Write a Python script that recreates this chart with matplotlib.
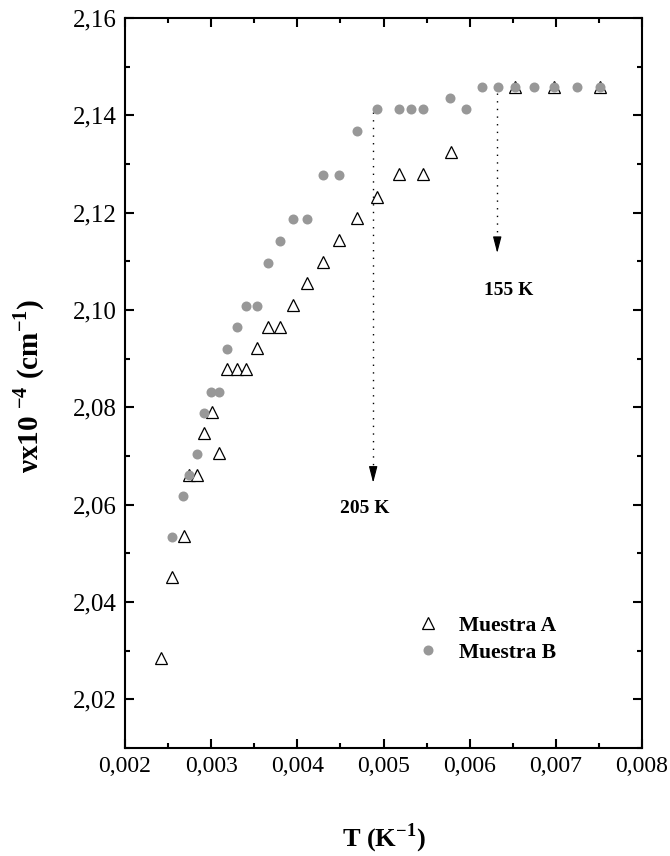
import numpy as np
import matplotlib
matplotlib.use('Agg')
import matplotlib.pyplot as plt
from matplotlib.ticker import MultipleLocator, FuncFormatter

plt.rcParams['font.family'] = ['Liberation Serif', 'DejaVu Serif']
plt.rcParams['mathtext.fontset'] = 'custom'
plt.rcParams['mathtext.rm'] = 'Liberation Serif'
plt.rcParams['mathtext.bf'] = 'Liberation Serif:bold'

## Muestra A (open triangles)
xa = [0.002418, 0.002541, 0.002681, 0.002745, 0.002839, 0.002916, 0.003009, 0.003094,
      0.003186, 0.003295, 0.003404, 0.003528, 0.003663, 0.003802, 0.003953, 0.004115,
      0.004293, 0.004479, 0.004691, 0.004923, 0.005183, 0.005453, 0.005778, 0.006524,
      0.006980, 0.007510]
ya = [2.0284, 2.0451, 2.0536, 2.0661, 2.0661, 2.0748, 2.0791, 2.0706,
      2.0878, 2.0878, 2.0878, 2.0921, 2.0966, 2.0966, 2.1010, 2.1055,
      2.1099, 2.1144, 2.1188, 2.1233, 2.1279, 2.1279, 2.1324, 2.1459,
      2.1459, 2.1459]

## Muestra B (grey circles)
xb = [0.002541, 0.002676, 0.002745, 0.002831, 0.002916, 0.003002, 0.003094, 0.003186,
      0.003295, 0.003404, 0.003528, 0.003663, 0.003802, 0.003945, 0.004115, 0.004293,
      0.004479, 0.004691, 0.004923, 0.005183, 0.005317, 0.005453, 0.005770, 0.005952,
      0.006138, 0.006323, 0.006524, 0.006748, 0.006980, 0.007240, 0.007510]
yb = [2.0534, 2.0618, 2.0661, 2.0704, 2.0789, 2.0832, 2.0832, 2.0920,
      2.0964, 2.1008, 2.1008, 2.1096, 2.1142, 2.1186, 2.1186, 2.1277,
      2.1277, 2.1367, 2.1413, 2.1413, 2.1413, 2.1413, 2.1436, 2.1413,
      2.1459, 2.1459, 2.1459, 2.1459, 2.1459, 2.1459, 2.1459]

## transition markers
arrow_x = [0.00488, 0.00632]
arrow_top = [2.1407, 2.1446]
arrow_tip = [2.0645, 2.1117]
arrow_lab = ['205 K', '155 K']
lab_x = [0.004784, 0.006455]
lab_y = [2.0593, 2.1041]

fig = plt.figure(figsize=(6.70, 8.56), dpi=100)
ax = fig.add_axes([0.1866, 0.1262, 0.9582 - 0.1866, 0.979 - 0.1262])

ax.plot(xa, ya, ls='none', marker='^', ms=8, mfc='white', mec='black', mew=0.9,
        label='Muestra A', zorder=3)
ax.plot(xb, yb, ls='none', marker='o', ms=7.2, mfc='#989898', mec='#989898', mew=0,
        label='Muestra B', zorder=4)

for x, top, tip, lab, lx, ly in zip(arrow_x, arrow_top, arrow_tip, arrow_lab, lab_x, lab_y):
    ax.plot([x, x], [top, tip + 0.002], color='black', lw=1.0, ls=(0, (1, 4.5)), zorder=2)
    ax.annotate('', xy=(x, tip), xytext=(x, tip + 0.0027),
                arrowprops=dict(arrowstyle='-|>,head_length=10,head_width=2.6',
                                mutation_scale=1, color='black', lw=0.8,
                                shrinkA=0, shrinkB=0))
    ax.text(lx, ly, lab, ha='center', va='center', fontsize=14, fontweight='bold')

ax.set_xlim(0.002, 0.008)
ax.set_ylim(2.01, 2.16)
ax.xaxis.set_major_locator(MultipleLocator(0.001))
ax.xaxis.set_minor_locator(MultipleLocator(0.0005))
ax.yaxis.set_major_locator(MultipleLocator(0.02))
ax.yaxis.set_minor_locator(MultipleLocator(0.01))
ax.xaxis.set_major_formatter(FuncFormatter(lambda v, p: f'{v:.3f}'.replace('.', ',')))
ax.yaxis.set_major_formatter(FuncFormatter(lambda v, p: f'{v:.2f}'.replace('.', ',')))

ax.tick_params(which='both', direction='in', top=True, right=True, width=1.5)
ax.tick_params(which='major', length=6.5)
ax.tick_params(which='minor', length=3.5)
ax.tick_params(axis='x', labelsize=17, pad=6)
ax.tick_params(axis='y', labelsize=18, pad=6)
for s in ax.spines.values():
    s.set_linewidth(1.5)

ax.set_xlabel('T (K$^{\\mathbf{-1}}$)', fontsize=19, fontweight='bold')
ax.xaxis.set_label_coords(0.5, -0.101)
ax.set_ylabel('\u03bdx10 $^{\\mathbf{-4}}$ (cm$^{\\mathbf{-1}}$)', fontsize=21, fontweight='bold')
ax.yaxis.set_label_coords(-0.150, 0.496)

ax.legend(loc='center left', bbox_to_anchor=(0.565, 0.149), frameon=False,
          borderaxespad=0, borderpad=0, handlelength=1.0, handletextpad=0.93,
          labelspacing=0.3, prop={'size': 15.5, 'weight': 'bold'})

fig.savefig('out.png', dpi=100)
